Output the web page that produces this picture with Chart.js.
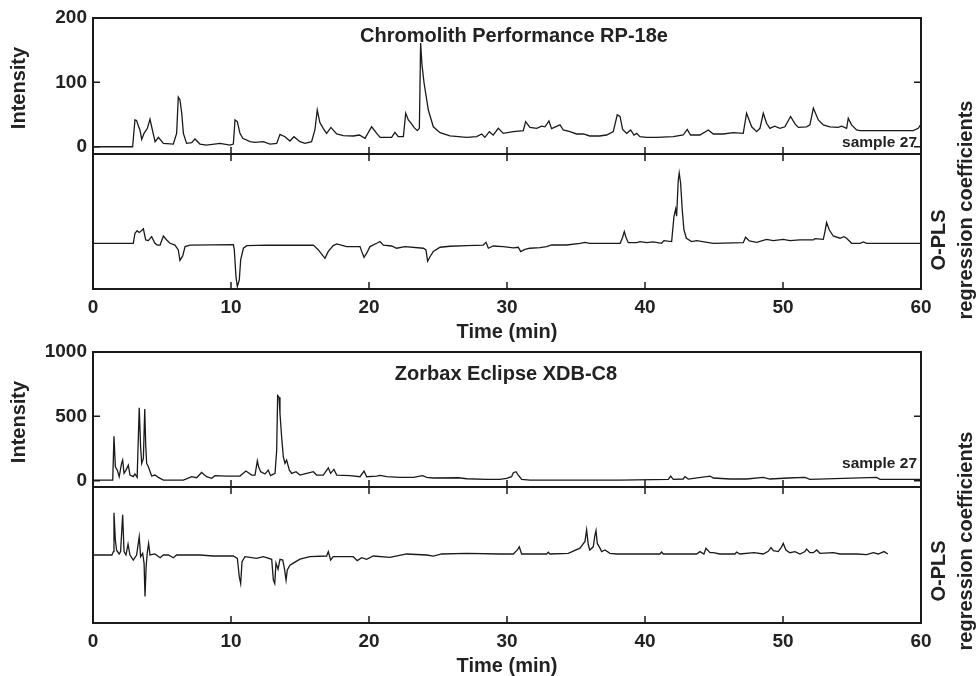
<!DOCTYPE html>
<html lang="en">
<head>
  <meta charset="UTF-8">
  <title>Chromatograms and O-PLS coefficients</title>
  <script src="https://cdn.jsdelivr.net/npm/chart.js"></script>
  <style>
    html, body { margin: 0; padding: 0; background: #fff; overflow: hidden; }
    body { width: 976px; height: 676px; position: relative;
           font-family: "Liberation Sans", Arial, Helvetica, sans-serif; font-weight: bold; color: #222; }
    canvas { position: absolute; left: 0; }
    .lbl { position: absolute; white-space: nowrap; line-height: 1; }
    .rot { transform: translate(-50%, -50%) rotate(-90deg); font-size: 20px; }
    .ttl { transform: translateX(-50%); font-size: 20px; }
    .smp { font-size: 15.5px; right: 59px; }
  </style>
</head>
<body>
  <canvas id="chromoInt" width="976" height="154" style="top:0px"></canvas>
  <canvas id="chromoCoef" width="976" height="195" style="top:154px"></canvas>
  <canvas id="zorbaxInt" width="976" height="151" style="top:336px"></canvas>
  <canvas id="zorbaxCoef" width="976" height="196" style="top:487px"></canvas>

  <div class="lbl ttl" style="left:514px; top:25px">Chromolith Performance RP-18e</div>
  <div class="lbl ttl" style="left:506px; top:363px">Zorbax Eclipse XDB-C8</div>
  <div class="lbl smp" style="top:134px">sample 27</div>
  <div class="lbl smp" style="top:455px">sample 27</div>
  <div class="lbl rot" style="left:17.5px; top:87.5px">Intensity</div>
  <div class="lbl rot" style="left:17.5px; top:421.5px">Intensity</div>
  <div class="lbl rot" style="left:938px; top:240px">O-PLS</div>
  <div class="lbl rot" style="left:965px; top:210px">regression coefficients</div>
  <div class="lbl rot" style="left:938px; top:571px">O-PLS</div>
  <div class="lbl rot" style="left:965px; top:541px">regression coefficients</div>

  <script>
    const timeTicks = [0, 10, 20, 30, 40, 50, 60];
    const chromoTicks = [0, 100, 200];
    const zorbaxTicks = [0, 500, 1000];

    // Chromolith, sample 27 chromatogram
    const chromoTime = [0, 2.87, 3.04, 3.16, 3.26, 3.4, 3.53, 3.7, 3.94, 4.13, 4.33, 4.5, 4.74, 5.1, 5.82, 6.06, 6.18, 6.3, 6.43, 6.55,
      6.78, 7.15, 7.39, 7.75, 8.23, 9.2, 9.93, 10.17, 10.29, 10.46, 10.65, 10.85, 11.38, 11.74, 12.34, 12.83, 13.31, 13.55, 13.91, 14.27,
      14.56, 15.0, 15.36, 15.84, 16.08, 16.25, 16.44, 16.68, 16.93, 17.24, 17.66, 18.14, 18.86, 19.3, 19.71, 20.19, 20.56, 20.8, 21.64, 21.88,
      22.12, 22.49, 22.66, 22.85, 23.02, 23.26, 23.5, 23.65, 23.74, 23.84, 23.99, 24.3, 24.66, 25.15, 25.87, 27.08, 27.8, 28.17, 28.4, 28.72,
      29.0, 29.37, 29.73, 30.46, 31.18, 31.35, 31.66, 32.15, 32.51, 32.75, 33.04, 33.23, 33.84, 34.08, 34.56, 35.04, 35.53, 36.0, 36.7, 37.22,
      37.7, 37.99, 38.19, 38.38, 38.67, 38.96, 39.2, 39.4, 39.63, 40.12, 40.84, 42.05, 42.77, 43.06, 43.3, 43.98, 44.59, 44.95, 45.67, 46.4,
      47.12, 47.36, 47.73, 48.09, 48.33, 48.57, 48.81, 49.05, 49.4, 49.78, 50.14, 50.55, 50.87, 51.11, 51.71, 51.95, 52.2, 52.56, 52.92, 53.4,
      54.0, 54.25, 54.61, 54.73, 54.97, 55.33, 55.58, 59.44, 59.8, 60];
    const chromoIntensity = [0, 0, 41.7, 40.6, 34, 26, 11.5, 20.8, 28.6, 42.7, 23.4, 7.8, 14.6, 5.2, 4.2, 20.8, 77, 73, 52, 20.8,
      5.2, 6.3, 12, 4.2, 2.6, 5.2, 2.6, 4.2, 41.7, 39, 20.8, 13, 7.8, 6.8, 7.8, 4.2, 5.2, 19.3, 15.6, 8.9,
      15.6, 7.8, 5.2, 7.8, 26, 57, 37.5, 28.6, 20.8, 30, 19.8, 17.2, 16.7, 18.2, 13, 31, 20.8, 14.6, 14.6, 22.4,
      15.6, 15.6, 52, 41.7, 37.5, 30, 25, 28.6, 161, 127, 99, 57, 31, 21.9, 16.7, 14.6, 15.6, 19.8, 14.6, 23.4,
      18, 28.6, 20.8, 23.4, 25, 39, 30, 28.6, 32, 31, 40, 28, 34, 26, 23.4, 19.8, 19.8, 16.7, 16.7, 18.2,
      23.4, 49.5, 47, 27, 20.8, 26, 18.2, 20.8, 15.6, 14.6, 14.6, 15.6, 18.2, 27, 18.2, 18.2, 26, 19.8, 19.8, 22,
      20.8, 52, 31, 23.4, 28.6, 52, 36.5, 28.6, 32, 28.6, 31, 47, 35.4, 30, 31, 34, 60, 41.7, 34, 31,
      30, 32, 28.6, 44.3, 34, 26, 25, 25, 28.6, 35];

    // Chromolith, O-PLS regression coefficients (arbitrary units)
    const chromoCoefTime = [0, 2.92, 3.04, 3.2, 3.35, 3.45, 3.65, 3.82, 4.01, 4.25, 4.49, 4.66, 4.86, 5.1, 5.34, 5.58, 5.94, 6.18, 6.3, 6.5,
      6.67, 7.03, 10.17, 10.24, 10.36, 10.46, 10.6, 10.7, 10.9, 11.14, 12.58, 13.8, 15.97, 16.33, 16.57, 16.81, 17.05, 17.41, 17.66, 18.38,
      19.35, 19.47, 19.64, 19.83, 20.07, 20.56, 20.8, 21.04, 21.64, 22.0, 22.6, 23.94, 24.13, 24.25, 24.42, 24.66, 25.15, 25.87, 27.08, 28.28,
      28.48, 28.65, 29.0, 29.73, 30.46, 30.82, 30.99, 31.3, 31.66, 32.39, 32.87, 33.23, 34.32, 35.29, 35.65, 36.0, 38.2, 38.38, 38.5, 38.62,
      38.79, 39.4, 39.63, 40.12, 40.6, 41.2, 41.37, 41.93, 42.1, 42.22, 42.29, 42.41, 42.48, 42.58, 42.7, 42.82, 43.0, 43.38, 43.74, 44.95,
      47.12, 47.29, 47.56, 48.09, 48.81, 49.3, 50.02, 50.5, 51.23, 52.2, 52.32, 52.92, 53.04, 53.16, 53.35, 53.64, 54.13, 54.42, 54.61, 54.97,
      55.58, 55.82, 56.06, 60];
    const chromoCoef = [0, 0, 0.11, 0.14, 0.12, 0.13, 0.16, 0.037, 0.03, 0.074, 0, -0.02, -0.02, 0.08, 0.037, 0, -0.02, -0.074, -0.19, -0.14,
      -0.037, -0.02, -0.015, -0.074, -0.37, -0.48, -0.41, -0.185, -0.055, -0.026, -0.02, -0.022, -0.02, -0.074, -0.12, -0.167, -0.09, -0.026, -0.007, -0.037,
      -0.037, -0.09, -0.155, -0.11, -0.037, 0, 0.02, -0.02, -0.03, -0.055, -0.037, -0.055, -0.074, -0.2, -0.15, -0.09, -0.044, -0.033, -0.026, -0.02,
      0.01, -0.055, -0.03, -0.037, -0.052, -0.044, -0.093, -0.067, -0.055, -0.048, -0.037, -0.019, -0.019, 0, 0.011, 0, 0, 0.067, 0.13, 0.067,
      0.007, 0.007, 0.019, 0.007, 0.015, 0, 0.03, 0.019, 0.3, 0.38, 0.3, 0.7, 0.78, 0.67, 0.37, 0.15, 0.056, 0.019, 0.03, 0,
      0.007, 0.067, 0.026, 0.011, 0.044, 0.03, 0.044, 0.03, 0.037, 0.037, 0.052, 0.044, 0.13, 0.23, 0.15, 0.081, 0.056, 0.074, 0.056, 0,
      0, 0.015, 0, 0];

    // Zorbax, sample 27 chromatogram
    const zorbaxTime = [0, 1.43, 1.52, 1.62, 1.76, 1.9, 2.07, 2.15, 2.25, 2.39, 2.56, 2.68, 2.92, 3.04, 3.2, 3.35, 3.45, 3.53, 3.65, 3.75,
      3.82, 3.89, 4.01, 4.25, 4.49, 4.73, 5.1, 6.55, 7.15, 7.51, 7.87, 8.23, 8.6, 8.84, 9.68, 10.65, 11.08, 11.5, 11.74, 11.91,
      12.0, 12.15, 12.46, 12.7, 12.87, 13.19, 13.31, 13.38, 13.48, 13.55, 13.67, 13.79, 13.91, 14.03, 14.23, 14.4, 14.71, 15.0, 15.48, 15.97,
      16.2, 16.69, 17.05, 17.22, 17.46, 17.66, 18.62, 19.35, 19.64, 19.83, 20.56, 20.8, 21.28, 22.25, 23.21, 23.89, 24.18, 24.66, 26.47, 27.08,
      28.53, 29.49, 29.97, 30.33, 30.46, 30.65, 30.82, 31.06, 31.66, 38.18, 41.69, 41.86, 42.05, 42.77, 42.9, 43.14, 44.71, 44.95, 46.16, 47.36,
      48.57, 49.05, 50.38, 51.59, 51.95, 56.78, 57.03, 60];
    const zorbaxIntensity = [5, 5, 345, 108, 82, 31, 134, 160, 57, 82, 121, 44, 31, 52, 26, 567, 263, 134, 173, 557,
      276, 134, 108, 36, 44, 26, 5, 5, 31, 23, 64, 31, 18, 39, 36, 36, 75, 44, 44, 155,
      108, 70, 52, 82, 39, 57, 237, 662, 649, 520, 340, 186, 134, 160, 82, 57, 70, 44, 57, 70,
      44, 44, 100, 57, 88, 44, 39, 31, 75, 31, 36, 41, 31, 26, 26, 39, 26, 21, 23, 15,
      10, 10, 18, 31, 62, 70, 44, 10, 5, 5, 10, 36, 10, 13, 31, 13, 36, 21, 13, 13,
      26, 13, 21, 26, 10, 26, 10, 10];

    // Zorbax, O-PLS regression coefficients (arbitrary units)
    const zorbaxCoefTime = [0, 1.37, 1.48, 1.52, 1.62, 1.71, 1.9, 2.0, 2.15, 2.25, 2.39, 2.54, 2.68, 2.92, 3.16, 3.35, 3.45, 3.6, 3.7, 3.77,
      3.85, 3.94, 4.03, 4.13, 4.49, 4.86, 5.1, 5.46, 5.82, 6.06, 7.75, 8.71, 10.17, 10.46, 10.6, 10.7, 10.8, 11.01, 11.86, 12.34,
      12.95, 13.07, 13.17, 13.26, 13.41, 13.55, 13.75, 13.87, 13.99, 14.08, 14.27, 14.51, 15.0, 15.72, 16.93, 17.05, 17.22, 17.41, 18.86, 19.15,
      19.47, 19.83, 20.31, 21.52, 22.73, 24.18, 24.66, 25.27, 27.08, 29.5, 30.46, 30.75, 30.89, 31.06, 32.87, 32.99, 33.11, 34.44, 35.29, 35.65,
      35.77, 35.89, 36.0, 36.25, 36.37, 36.45, 36.54, 36.69, 36.86, 37.1, 37.46, 37.94, 41.08, 41.2, 41.33, 43.74, 43.98, 44.27, 44.42, 44.71,
      44.95, 45.43, 46.52, 46.64, 46.88, 47.9, 48.57, 48.93, 49.13, 49.3, 49.66, 49.9, 50.02, 50.21, 50.5, 50.87, 51.23, 51.59, 51.71, 51.95,
      52.2, 52.44, 52.68, 53.64, 54.13, 55.33, 56.06, 56.54, 56.9, 57.32, 57.6];
    const zorbaxCoef = [0, 0, 0.05, 0.62, 0.22, 0.07, 0.015, 0.05, 0.59, 0.05, 0, 0.16, 0, -0.074, 0, 0.27, -0.025, 0.025, -0.12, -0.61,
      -0.17, 0.05, 0.17, 0, 0.015, -0.04, 0, 0, -0.04, 0, 0, -0.015, -0.015, -0.05, -0.32, -0.42, -0.1, -0.025, -0.05, -0.025,
      -0.064, -0.37, -0.42, -0.12, -0.21, -0.064, -0.074, -0.196, -0.37, -0.22, -0.15, -0.12, -0.06, -0.025, -0.015, 0.05, -0.074, -0.025, -0.025, -0.083,
      -0.04, -0.064, -0.015, -0.035, 0.015, 0, -0.015, 0.015, 0.025, 0.015, 0.015, 0.074, 0.12, 0.015, 0.015, 0.04, 0.015, 0.025, 0.1, 0.2,
      0.37, 0.15, 0.074, 0.12, 0.29, 0.36, 0.17, 0.12, 0.05, 0.074, 0.025, 0.015, 0.015, 0.044, 0.015, 0.015, 0.05, 0.015, 0.1, 0.034,
      0.034, 0.015, 0.015, 0.044, 0.015, 0.034, 0.015, 0.054, 0.11, 0.064, 0.05, 0.12, 0.17, 0.074, 0.034, 0.05, 0.015, 0.05, 0.088, 0.034,
      0.034, 0.074, 0.025, 0.034, 0.015, 0.015, 0.005, 0.034, 0.015, 0.05, 0.015];

    const ink = '#1a1a1a';
    const tickFont = { family: '"Liberation Sans", Arial, sans-serif', size: 19, weight: 'bold' };

    // box round the plot area plus the short inward tick marks
    const framePlugin = {
      id: 'frame',
      afterDraw(chart, args, opts) {
        const { ctx, chartArea: a, scales } = chart;
        ctx.save();
        ctx.strokeStyle = ink;
        ctx.lineWidth = 2;
        ctx.strokeRect(a.left, a.top, a.right - a.left, a.bottom - a.top);
        ctx.lineWidth = 1.5;
        ctx.beginPath();
        timeTicks.forEach(t => {
          const x = scales.x.getPixelForValue(t);
          if (opts.top) { ctx.moveTo(x, a.top); ctx.lineTo(x, a.top + 7); }
          if (opts.bottom) { ctx.moveTo(x, a.bottom); ctx.lineTo(x, a.bottom - 7); }
        });
        (opts.yTicks || []).forEach(v => {
          const y = scales.y.getPixelForValue(v);
          ctx.moveTo(a.left, y); ctx.lineTo(a.left + 7, y);
          ctx.moveTo(a.right, y); ctx.lineTo(a.right - 7, y);
        });
        ctx.stroke();
        ctx.restore();
      }
    };

    function makePanel(id, times, values, cfg) {
      const points = times.map((t, i) => ({ x: t, y: values[i] }));
      const xAxis = cfg.showTime ? {
        type: 'linear', min: 0, max: 60,
        afterBuildTicks: s => { s.ticks = timeTicks.map(v => ({ value: v })); },
        afterFit: s => { s.height = 60; s.paddingLeft = 0; s.paddingRight = 0; },
        ticks: { font: tickFont, color: '#222', padding: 7, maxRotation: 0, autoSkip: false, callback: v => String(v) },
        grid: { display: false, drawTicks: false },
        border: { display: false },
        title: { display: true, text: 'Time (min)', color: '#222', padding: { top: 0, bottom: 5 },
                 font: { family: '"Liberation Sans", Arial, sans-serif', size: 20, weight: 'bold' } }
      } : { type: 'linear', min: 0, max: 60, display: false };

      return new Chart(document.getElementById(id), {
        type: 'line',
        data: { datasets: [{ data: points, borderColor: ink, borderWidth: 1.3, pointRadius: 0, tension: 0, fill: false }] },
        options: {
          responsive: false,
          animation: false,
          devicePixelRatio: 1,
          layout: { padding: { top: cfg.padTop, right: 55, left: 0, bottom: 0 } },
          plugins: {
            legend: { display: false },
            tooltip: { enabled: false },
            frame: { top: cfg.showTime, bottom: true, yTicks: cfg.yTicks }
          },
          scales: {
            x: xAxis,
            y: {
              min: cfg.yMin, max: cfg.yMax,
              afterBuildTicks: s => { s.ticks = (cfg.yTicks || []).map(v => ({ value: v })); },
              afterFit: s => { s.width = 93; s.paddingTop = 0; s.paddingBottom = 0; },
              ticks: { display: !!cfg.yTicks, font: tickFont, color: '#222', padding: 6, callback: v => String(v) },
              grid: { display: false, drawTicks: false },
              border: { display: false }
            }
          }
        },
        plugins: [framePlugin]
      });
    }

    makePanel('chromoInt', chromoTime, chromoIntensity, { padTop: 18, yMin: -11.3, yMax: 200, yTicks: chromoTicks, showTime: false });
    makePanel('chromoCoef', chromoCoefTime, chromoCoef, { padTop: 0, yMin: -0.508, yMax: 0.992, showTime: true });
    makePanel('zorbaxInt', zorbaxTime, zorbaxIntensity, { padTop: 16, yMin: -49, yMax: 1000, yTicks: zorbaxTicks, showTime: false });
    makePanel('zorbaxCoef', zorbaxCoefTime, zorbaxCoef, { padTop: 0, yMin: -1, yMax: 1, showTime: true });
  </script>
</body>
</html>
